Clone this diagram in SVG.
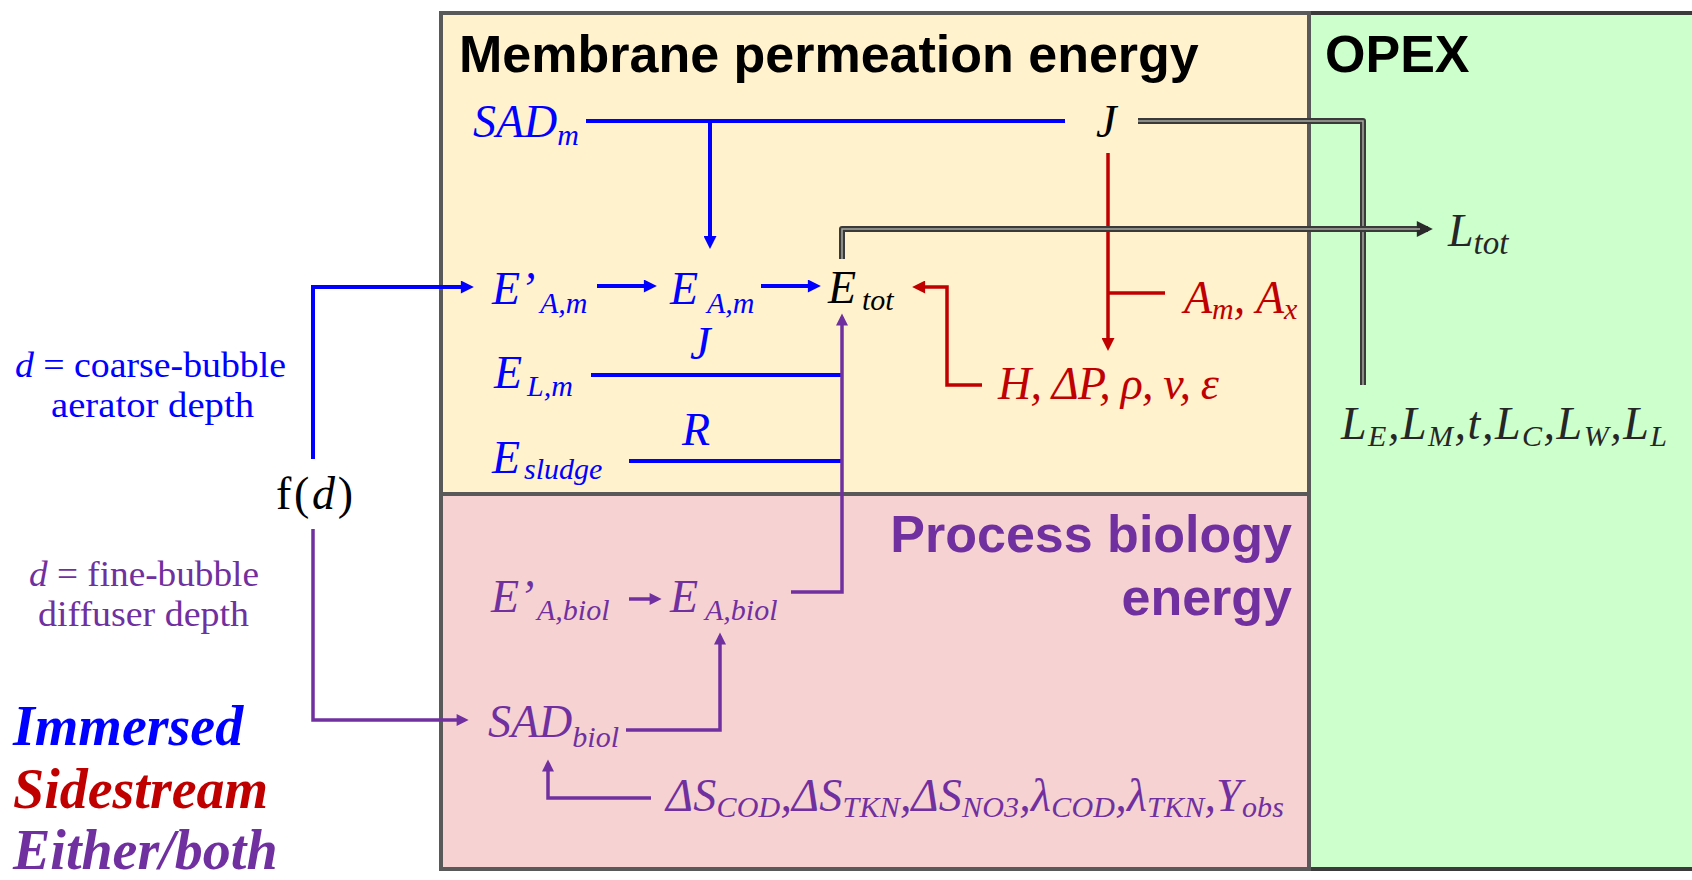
<svg xmlns="http://www.w3.org/2000/svg" width="1692" height="880" viewBox="0 0 1692 880">
<style>
.title{font-family:"Liberation Sans",Arial,sans-serif;font-weight:bold;font-size:52px}
.m{font-family:"Liberation Serif","DejaVu Serif",serif;font-style:italic;font-size:46px}
.s{font-size:30px}
.note{font-family:"Liberation Serif","DejaVu Serif",serif;font-size:36px}
.leg{font-family:"Liberation Serif","DejaVu Serif",serif;font-style:italic;font-weight:bold;font-size:56px}
.blue{fill:#0000FF}.red{fill:#C00000}.pur{fill:#7030A0}.blk{fill:#000}.dk{fill:#262626}
.lb{stroke:#0000FF;stroke-width:4;fill:none}
.lr{stroke:#C00000;stroke-width:3.5;fill:none}
.lp{stroke:#7030A0;stroke-width:3.5;fill:none}
.dbo{stroke:#3a3a3a;stroke-width:6;fill:none;stroke-linejoin:round}
.dbi{stroke:#a8a8a0;stroke-width:1.5;fill:none}
.box{stroke:#595959;stroke-width:4}
</style>
<defs>
<marker id="ab" viewBox="0 0 10 10" refX="7" refY="5" markerWidth="15" markerHeight="13" markerUnits="userSpaceOnUse" orient="auto"><path d="M0,0 L10,5 L0,10 z" fill="#0000FF"/></marker>
<marker id="ar" viewBox="0 0 10 10" refX="7" refY="5" markerWidth="15" markerHeight="13" markerUnits="userSpaceOnUse" orient="auto"><path d="M0,0 L10,5 L0,10 z" fill="#C00000"/></marker>
<marker id="ap" viewBox="0 0 10 10" refX="7" refY="5" markerWidth="14" markerHeight="12" markerUnits="userSpaceOnUse" orient="auto"><path d="M0,0 L10,5 L0,10 z" fill="#7030A0"/></marker>
<marker id="ak" viewBox="0 0 10 10" refX="7" refY="5" markerWidth="20" markerHeight="16" markerUnits="userSpaceOnUse" orient="auto"><path d="M0,0 L10,5 L0,10 z" fill="#2a2a2a"/></marker>
</defs>
<rect width="1692" height="880" fill="#fff"/>

<g id="panels">
<rect id="opex" x="1309" y="13" width="390" height="856" fill="#CCFFCC" stroke="#3a3a3a" stroke-width="4"/>
<rect id="membrane" x="441" y="13" width="868" height="481" fill="#FFF2CC" class="box"/>
<rect id="biology" x="441" y="494" width="868" height="375" fill="#F6D2D2" class="box"/>
</g>

<g id="titles">
<text class="title blk" x="459" y="72">Membrane permeation energy</text>
<text class="title blk" x="1325" y="72">OPEX</text>
<text class="title pur" x="1292" y="552" text-anchor="end">Process biology</text>
<text class="title pur" x="1292" y="615" text-anchor="end">energy</text>
</g>

<g id="connectors">
<path class="lb" d="M586,121 H1065"/>
<path class="lb" d="M710,121 V245" marker-end="url(#ab)"/>
<path class="lb" d="M313,459 V287 H470" marker-end="url(#ab)"/>
<path class="lb" d="M597,286 H653" marker-end="url(#ab)"/>
<path class="lb" d="M761,286 H817" marker-end="url(#ab)"/>
<path class="lb" d="M591,375 H842"/>
<path class="lb" d="M629,461 H842"/>
<path class="lp" d="M791,592 H842 V317" marker-end="url(#ap)"/>
<path class="lp" d="M629,599 H658" marker-end="url(#ap)"/>
<path class="lp" d="M626,730 H720 V636" marker-end="url(#ap)"/>
<path class="lp" d="M313,529 V720 H465" marker-end="url(#ap)"/>
<path class="lp" d="M651,798 H548 V763" marker-end="url(#ap)"/>
<path class="lr" d="M1108,153 V347" marker-end="url(#ar)"/>
<path class="lr" d="M1165,293 H1108"/>
<path class="lr" d="M982,385 H947 V287 H916" marker-end="url(#ar)"/>
<path class="dbo" d="M1138,121 H1363 V385"/>
<path class="dbi" d="M1138,121 H1363 V385"/>
<path class="dbo" d="M842,259 V229 H1428" marker-end="url(#ak)"/>
<path class="dbi" d="M842,259 V229 H1420"/>
</g>

<g id="n-sadm"><text class="m blue" x="473" y="137">SAD<tspan class="s" dy="8">m</tspan></text></g>
<g id="n-j"><text class="m blk" x="1096" y="137">J</text></g>
<g id="n-eam-prime"><text class="m blue" x="492" y="304">E’<tspan class="s" x="540" dy="9">A,m</tspan></text></g>
<g id="n-eam"><text class="m blue" x="670" y="304">E<tspan class="s" x="707" dy="9">A,m</tspan></text></g>
<g id="n-etot"><text class="m blk" x="828" y="303">E<tspan class="s" x="862" dy="7">tot</tspan></text></g>
<g id="n-amax"><text class="m red" x="1184" y="313">A<tspan class="s" dy="6">m</tspan><tspan dy="-6">, A</tspan><tspan class="s" dy="6">x</tspan></text></g>
<g id="n-elm"><text class="m blue" x="494" y="388">E<tspan class="s" x="527" dy="8">L,m</tspan></text></g>
<g id="n-j2"><text class="m blue" x="690" y="359">J</text></g>
<g id="n-esludge"><text class="m blue" x="492" y="473">E<tspan class="s" x="524" dy="6">sludge</tspan></text></g>
<g id="n-r"><text class="m blue" x="682" y="445">R</text></g>
<g id="n-hydro"><text class="m red" x="998" y="399" textLength="221" lengthAdjust="spacing">H, ΔP, ρ, v, ε</text></g>
<g id="n-eabiol-prime"><text class="m pur" x="491" y="612">E’<tspan class="s" x="537" dy="8">A,biol</tspan></text></g>
<g id="n-eabiol"><text class="m pur" x="670" y="612">E<tspan class="s" x="705" dy="8">A,biol</tspan></text></g>
<g id="n-sadbiol"><text class="m pur" x="488" y="737">SAD<tspan class="s" dy="10">biol</tspan></text></g>
<g id="n-kinetics"><text class="m pur" x="666" y="811" textLength="618" lengthAdjust="spacing">ΔS<tspan class="s" dy="6">COD</tspan><tspan dy="-6">,ΔS</tspan><tspan class="s" dy="6">TKN</tspan><tspan dy="-6">,ΔS</tspan><tspan class="s" dy="6">NO3</tspan><tspan dy="-6">,λ</tspan><tspan class="s" dy="6">COD</tspan><tspan dy="-6">,λ</tspan><tspan class="s" dy="6">TKN</tspan><tspan dy="-6">,Y</tspan><tspan class="s" dy="6">obs</tspan></text></g>
<g id="n-ltot"><text class="m dk" x="1448" y="246">L<tspan class="s" dy="8" style="font-size:33px">tot</tspan></text></g>
<g id="n-lparams"><text class="m dk" x="1341" y="439" textLength="326" lengthAdjust="spacing">L<tspan class="s" dy="7">E</tspan><tspan dy="-7">,L</tspan><tspan class="s" dy="7">M</tspan><tspan dy="-7">,t,L</tspan><tspan class="s" dy="7">C</tspan><tspan dy="-7">,L</tspan><tspan class="s" dy="7">W</tspan><tspan dy="-7">,L</tspan><tspan class="s" dy="7">L</tspan></text></g>
<g id="n-fd"><text class="note blk" x="276" y="509" style="font-size:46px" textLength="77" lengthAdjust="spacing">f(<tspan font-style="italic">d</tspan>)</text></g>
<g id="n-coarse">
<text class="note blue" x="15" y="377" textLength="271" lengthAdjust="spacingAndGlyphs"><tspan font-style="italic">d</tspan> = coarse-bubble</text>
<text class="note blue" x="51" y="417" textLength="203" lengthAdjust="spacingAndGlyphs">aerator depth</text>
</g>
<g id="n-fine">
<text class="note pur" x="29" y="586" textLength="230" lengthAdjust="spacingAndGlyphs"><tspan font-style="italic">d</tspan> = fine-bubble</text>
<text class="note pur" x="38" y="626" textLength="211" lengthAdjust="spacingAndGlyphs">diffuser depth</text>
</g>
<g id="legend">
<text class="leg blue" x="13" y="745">Immersed</text>
<text class="leg red" x="13" y="808">Sidestream</text>
<text class="leg pur" x="13" y="869">Either/both</text>
</g>
</svg>
